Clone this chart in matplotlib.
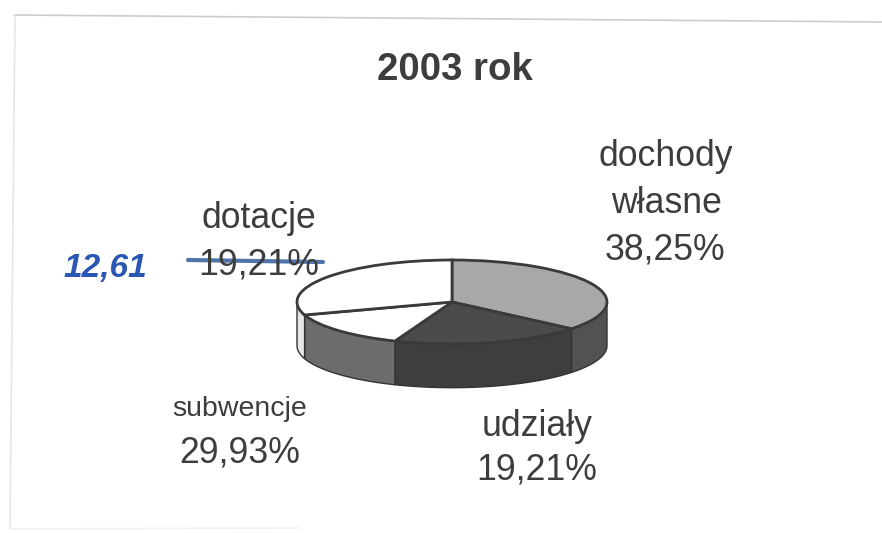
import numpy as np
import matplotlib
matplotlib.use("Agg")
import matplotlib.pyplot as plt

plt.rcParams['font.family'] = ['Liberation Sans', 'DejaVu Sans']

W, H = 882, 533

title = "2003 rok"
categories = ["dochody", "własne", "udziały", "subwencje", "dotacje"]
value_labels = ["38,25%", "19,21%", "29,93%", "19,21%"]
handwritten = "12,61"
# wedge sizes as drawn in the picture
shares = [36.0, 20.0, 14.0, 30.0]
top_colors = ["#a8a8a8", "#4b4b4b", "#ffffff", "#ffffff"]
side_colors = ["#525252", "#3e3e3e", "#6c6c6c", "#e6e6e6"]
ink = "#3d3d3d"

fig = plt.figure(figsize=(W / 100, H / 100), dpi=100, facecolor="white")


def px_line(x0, y0, x1, y1, **kw):
    fig.add_artist(plt.Line2D([x0 / W, x1 / W], [1 - y0 / H, 1 - y1 / H], **kw))


# faint edges of the scanned page
px_line(14, 15, 882, 22, color="#cccccc", lw=1.2)
px_line(15, 15, 10, 528, color="#e6e6e6", lw=1.2)
px_line(10, 529, 300, 528, color="#f2f2f2", lw=1.2)

# pie axes: unit circle squeezed to an ellipse, centre (452, 302), rx 155, ry 42
cx, cy, rx, ry = 452, 302, 155, 42
depth = 1.04
ax = fig.add_axes([(cx - 1.1 * rx) / W, 1 - (cy + 1.1 * ry + 50) / H,
                   2.2 * rx / W, (2.2 * ry + 50) / H])
ax.set_zorder(1)
ax.pie(shares, colors=top_colors, startangle=90, counterclock=False, radius=1,
       wedgeprops=dict(edgecolor="#3a3a3a", linewidth=2.0, zorder=3))
ax.set_aspect("auto")
ax.set_xlim(-1.1, 1.1)
ax.set_ylim(-1.1 - 50 / ry, 1.1)
ax.axis("off")

# side wall of the disc, from the same shares
edges = 90 - np.cumsum([0] + shares) * 3.6
for a0, a1, col in zip(edges[:-1], edges[1:], side_colors):
    lo2, hi2 = max(a1, -180), min(a0, 0)
    if hi2 <= lo2:
        continue
    t = np.radians(np.linspace(lo2, hi2, 60))
    xs = np.r_[np.cos(t), np.cos(t[::-1])]
    ys = np.r_[np.sin(t), np.sin(t[::-1]) - depth]
    ax.fill(xs, ys, facecolor=col, edgecolor="#333333", linewidth=1.0, zorder=1)


def px_text(x, y, s, size, **kw):
    kw.setdefault("color", ink)
    kw.setdefault("ha", "center")
    kw.setdefault("va", "center")
    fig.text(x / W, 1 - y / H, s, fontsize=size, **kw)


px_text(455, 70, title, 27.6, fontweight="bold")
px_text(666, 157, categories[0], 25.7)
px_text(666, 203, categories[1], 25.7)
px_text(665, 250, value_labels[0], 25.7)
px_text(537, 426, categories[2], 25.7)
px_text(537, 470, value_labels[1], 25.7)
px_text(240, 409, categories[3], 20.5)
px_text(240, 453, value_labels[2], 25.7)
px_text(259, 219, categories[4], 25.7)
px_text(259, 265, value_labels[3], 25.7)

# handwritten correction and strike-through
px_text(105, 269, handwritten, 24, color="#2a56b4", fontstyle="italic", fontweight="bold",
        family=["Liberation Sans Narrow", "Liberation Sans"])
px_line(188, 260, 323, 262, color="#4f74a8", lw=3, solid_capstyle="round")

fig.savefig("out.png", dpi=100, facecolor="white")
